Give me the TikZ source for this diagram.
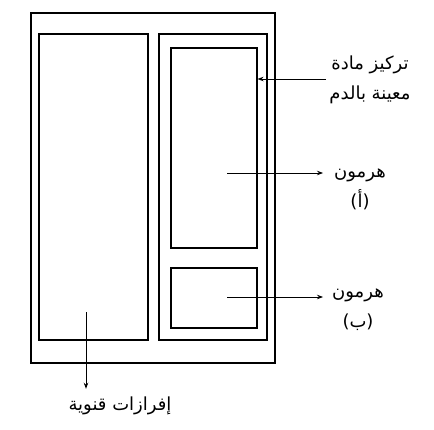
\documentclass[tikz,border=0pt]{standalone}
\usepackage{fontspec}
\usepackage{tikz}
\usetikzlibrary{arrows.meta, positioning, calc}
\TeXXeTstate=1
\newfontfamily\arabicfont[Script=Arabic]{DejaVu Sans}
\tikzset{
	gland/.style ={rectangle, draw=black, line width=1.1pt, inner sep=0pt},
	lbl/.style   ={align=center, font=\fontsize{18}{30}\arabicfont, inner sep=3pt},
	sig/.style   ={-{Stealth[length=6pt, width=4.5pt]}, line width=0.8pt},
}
\begin{document}
\begin{tikzpicture}[x=1pt, y=-1pt]
	\useasboundingbox (0,0) rectangle (434,429);
	% gland outlines
	\node[gland, minimum width=244, minimum height=350] (outer) at (153,188) {};
	\node[gland, minimum width=109, minimum height=306] (duct) at (93.5,187) {};
	\node[gland, minimum width=108, minimum height=306] (endo) at (213,187) {};
	\node[gland, minimum width=86, minimum height=200] (topbox) at (214,148) {};
	\node[gland, minimum width=86, minimum height=60] (botbox) at (214,298) {};
	% labels
	\node[lbl] (conc) at (370,80) {\beginR تركيز مادة\endR\\ \beginR معينة بالدم\endR};
	\node[lbl] (hormA) at (360,189) {\beginR هرمون\endR\\ \beginR(أ)\endR};
	\node[lbl] (hormB) at (358,310) {\beginR هرمون\endR\\ \beginR(ب)\endR};
	\node[lbl] (secr) at (120,406) {\beginR إفرازات قنوية\endR};
	\coordinate (srcA) at (227,173);
	\coordinate (srcB) at (227,297);
	\coordinate (srcD) at (86,312);
	% arrows
	\draw[sig] (conc.west |- 0,79) coordinate (cc) -- (cc -| topbox.east);
	\draw[sig, shorten >=8pt] (srcA) -- (srcA -| hormA.west);
	\draw[sig, shorten >=6pt] (srcB) -- (srcB -| hormB.west);
	\draw[sig, shorten >=5pt] (srcD) -- (srcD |- secr.north);
\end{tikzpicture}
\end{document}
